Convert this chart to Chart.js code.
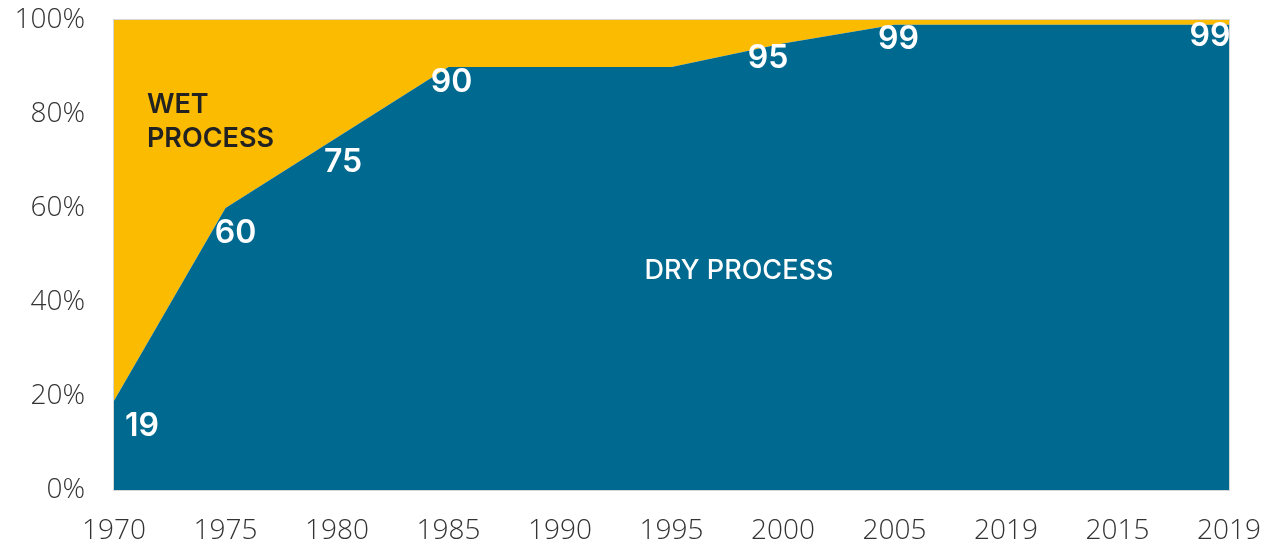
<!DOCTYPE html>
<html>
<head>
<meta charset="utf-8">
<script src="https://cdn.jsdelivr.net/npm/chart.js@4.4.0/dist/chart.umd.min.js"></script>
<style>
  html, body { margin: 0; padding: 0; background: #fff; }
  #wrap { width: 1264px; height: 546px; }
</style>
</head>
<body>
<div id="wrap"><canvas id="c"></canvas></div>
<script>
// ===== 数据 =====
const years = ['1970', '1975', '1980', '1985', '1990', '1995', '2000', '2005', '2019', '2015', '2019'];
const dryShare = [19, 60, 75, 90, 90, 90, 95, 99, 99, 99, 99];
const wetShare = dryShare.map((v) => 100 - v);
const dryLabels = ['19', '60', '75', '90', '', '', '95', '99', '', '', '99'];
const yTicks = [0, 20, 40, 60, 80, 100];

const DRY = '#00698f';
const WET = '#fbbb00';
const FONT = 'Inter, "Noto Sans", sans-serif';
const TICK_FONT = '"Open Sans", Inter, sans-serif';

// 每个数值标签相对数据点的偏移（像素）
const labelOffset = [[28, 26], [10, 25], [6, 25], [3, 15], [0, 0], [0, 0], [-15, 15], [4, 15], [0, 0], [0, 0], [-19, 12]];

// 标签 + 面积名称
const textPlugin = {
  id: 'texts',
  afterDatasetsDraw(chart) {
    const { ctx, scales: { x, y } } = chart;
    const meta = chart.getDatasetMeta(0);
    ctx.save();
    ctx.textBaseline = 'middle';
    ctx.fillStyle = '#fff';
    ctx.font = `600 32px ${FONT}`;
    meta.data.forEach((pt, i) => {
      if (!dryLabels[i]) return;
      const [dx, dy] = labelOffset[i];
      ctx.textAlign = 'center';
      ctx.fillText(dryLabels[i], pt.x + dx, pt.y + dy);
    });
    ctx.font = `600 27px ${FONT}`;
    ctx.textAlign = 'left';
    ctx.fillStyle = '#222';
    ctx.fillText('WET', x.getPixelForValue(0.295), y.getPixelForValue(82));
    ctx.fillText('PROCESS', x.getPixelForValue(0.295), y.getPixelForValue(74.8));
    ctx.fillStyle = '#fff';
    ctx.font = `500 27px ${FONT}`;
    ctx.textAlign = 'center';
    ctx.fillText('DRY PROCESS', x.getPixelForValue(5.605), y.getPixelForValue(46.6));
    ctx.restore();
  },
  afterDraw(chart) {
    const a = chart.chartArea;
    const ctx = chart.ctx;
    ctx.save();
    ctx.strokeStyle = '#d6d6d6';
    ctx.lineWidth = 1;
    ctx.strokeRect(a.left - 0.5, a.top - 0.5, a.right - a.left + 1, a.bottom - a.top + 1);
    ctx.restore();
  },
};

new Chart(document.getElementById('c'), {
  type: 'line',
  data: {
    labels: years,
    datasets: [
      { label: 'Dry process', data: dryShare, backgroundColor: DRY, borderWidth: 0, fill: 'origin', pointRadius: 0, tension: 0 },
      { label: 'Wet process', data: wetShare, backgroundColor: WET, borderWidth: 0, fill: '-1', pointRadius: 0, tension: 0 },
    ],
  },
  options: {
    responsive: true,
    maintainAspectRatio: false,
    animation: false,
    layout: { padding: { top: 20, right: 35, left: 0, bottom: 0 } },
    plugins: { legend: { display: false }, tooltip: { enabled: false } },
    scales: {
      x: {
        offset: false,
        grid: { display: false },
        border: { display: false },
        ticks: { color: '#333', font: { family: TICK_FONT, size: 28, weight: 300 }, padding: 16, maxRotation: 0, autoSkip: false },
        afterFit: (s) => { s.height = 56; s.paddingLeft = 0; s.paddingRight = 0; },
      },
      y: {
        stacked: true,
        min: 0,
        max: 100,
        grid: { display: false },
        border: { display: false },
        afterBuildTicks: (s) => { s.ticks = yTicks.map((v) => ({ value: v })); },
        ticks: { color: '#333', font: { family: TICK_FONT, size: 28, weight: 300 }, padding: 21, callback: (v) => v + '%' },
        afterFit: (s) => { s.width = 114; s.paddingTop = 0; s.paddingBottom = 0; },
      },
    },
  },
  plugins: [textPlugin],
});
</script>
</body>
</html>
